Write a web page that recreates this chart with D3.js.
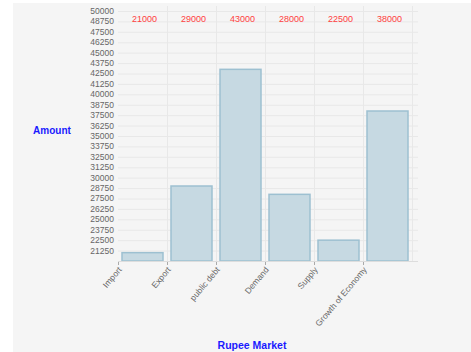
<!DOCTYPE html>
<html>
<head>
<meta charset="utf-8">
<script src="https://cdn.jsdelivr.net/npm/d3@7"></script>
<style>
  html, body { margin: 0; padding: 0; background: #ffffff; }
  svg { display: block; }
</style>
</head>
<body>
<svg id="chart" width="471" height="352"></svg>
<script>
const categories = ['Import', 'Export', 'public debt', 'Demand', 'Supply', 'Growth of Economy'];
const amounts = [21000, 29000, 43000, 28000, 22500, 38000];
const yTicks = d3.range(21250, 50001, 1250);

const svg = d3.select('#chart');

// panel background
svg.append('rect')
  .attr('x', 13).attr('y', 3)
  .attr('width', 458).attr('height', 349)
  .attr('fill', '#f5f5f5');

const x = d3.scaleBand()
  .domain(categories)
  .range([118, 412])
  .paddingInner(0)
  .paddingOuter(0);

const y = d3.scaleLinear()
  .domain([20000, 50000])
  .range([261, 11]);

// grid
const grid = svg.append('g');
grid.selectAll('line.h')
  .data(yTicks)
  .enter()
  .append('line')
  .attr('x1', 118).attr('x2', 418)
  .attr('y1', d => y(d) + 0.5).attr('y2', d => y(d) + 0.5)
  .attr('stroke', '#e8e8e8')
  .attr('stroke-width', 1);

grid.selectAll('line.v')
  .data(categories)
  .enter()
  .append('line')
  .attr('x1', d => x(d) + x.bandwidth() + 0.5)
  .attr('x2', d => x(d) + x.bandwidth() + 0.5)
  .attr('y1', 6).attr('y2', 261)
  .attr('stroke', '#e8e8e8')
  .attr('stroke-width', 1);

// y axis labels
svg.append('g')
  .selectAll('text')
  .data(yTicks)
  .enter()
  .append('text')
  .attr('x', 114)
  .attr('y', d => y(d))
  .attr('dy', '0.35em')
  .attr('text-anchor', 'end')
  .attr('font-family', 'Liberation Sans, Arial, sans-serif')
  .attr('font-size', 8.5)
  .attr('fill', '#666666')
  .text(d => d);

// bars
svg.append('g')
  .selectAll('rect')
  .data(amounts)
  .enter()
  .append('rect')
  .attr('x', (d, i) => x(categories[i]) + 4)
  .attr('y', d => y(d))
  .attr('width', x.bandwidth() - 8)
  .attr('height', d => y(20000) - y(d))
  .attr('fill', '#c6d9e2')
  .attr('stroke', '#9dc0d1')
  .attr('stroke-width', 1.5);

// value labels
svg.append('g')
  .selectAll('text')
  .data(amounts)
  .enter()
  .append('text')
  .attr('x', (d, i) => x(categories[i]) + x.bandwidth() / 2 + 2)
  .attr('y', 22)
  .attr('text-anchor', 'middle')
  .attr('font-family', 'Liberation Sans, Arial, sans-serif')
  .attr('font-size', 9)
  .attr('fill', '#ff4040')
  .text(d => d);

// x axis
const xAxis = svg.append('g');
xAxis.append('line')
  .attr('x1', 118).attr('x2', 418)
  .attr('y1', 261.5).attr('y2', 261.5)
  .attr('stroke', '#dddddd');

const xt = xAxis.selectAll('g')
  .data(categories)
  .enter()
  .append('g')
  .attr('transform', d => `translate(${x(d)}, 262)`);

xt.append('line')
  .attr('x1', 0.5).attr('x2', 0.5)
  .attr('y1', 0).attr('y2', 3)
  .attr('stroke', '#aaaaaa');

xt.append('text')
  .attr('transform', 'translate(2, 6) rotate(-50)')
  .attr('text-anchor', 'end')
  .attr('dy', '0.35em')
  .attr('font-family', 'Liberation Sans, Arial, sans-serif')
  .attr('font-size', 8.5)
  .attr('fill', '#666666')
  .text(d => d);

// axis titles
svg.append('text')
  .attr('x', 52).attr('y', 134)
  .attr('text-anchor', 'middle')
  .attr('font-family', 'Liberation Sans, Arial, sans-serif')
  .attr('font-size', 10)
  .attr('font-weight', 'bold')
  .attr('fill', '#1a1aff')
  .text('Amount');

svg.append('text')
  .attr('x', 252).attr('y', 349)
  .attr('text-anchor', 'middle')
  .attr('font-family', 'Liberation Sans, Arial, sans-serif')
  .attr('font-size', 10.5)
  .attr('font-weight', 'bold')
  .attr('fill', '#1a1aff')
  .text('Rupee Market');
</script>
</body>
</html>
